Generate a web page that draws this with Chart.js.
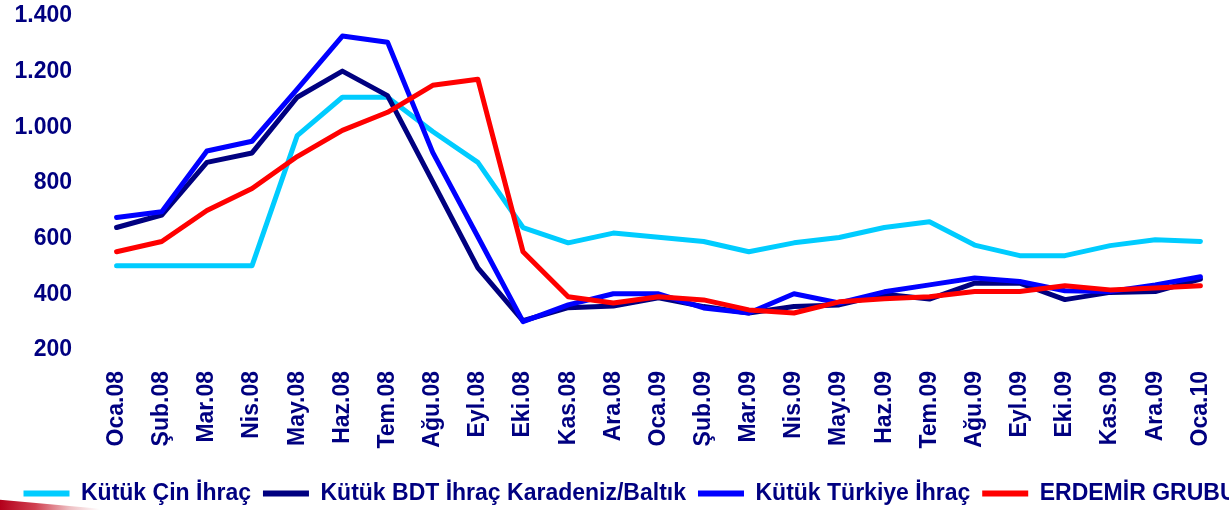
<!DOCTYPE html>
<html>
<head>
<meta charset="utf-8">
<script src="https://cdn.jsdelivr.net/npm/chart.js@4.4.1/dist/chart.umd.min.js"></script>
<style>
  html, body { margin: 0; padding: 0; background: #fff; overflow: hidden; width: 1229px; height: 510px; }
  #wrap { position: relative; width: 1260px; height: 510px; }
  #swoosh { position: absolute; left: 0; top: 498px; width: 100px; height: 12px;
    background: linear-gradient(to right, #b3001b 0%, #d04050 35%, #eec0c4 70%, rgba(255,255,255,0) 100%);
    clip-path: polygon(0 15%, 100% 90%, 100% 100%, 0 100%); z-index: 0; }
  canvas { position: relative; z-index: 1; }
</style>
</head>
<body>
<div id="wrap"><div id="swoosh"></div><canvas id="c"></canvas></div>
<script>
const categories = ["Oca.08","Şub.08","Mar.08","Nis.08","May.08","Haz.08","Tem.08","Ağu.08","Eyl.08","Eki.08","Kas.08","Ara.08",
  "Oca.09","Şub.09","Mar.09","Nis.09","May.09","Haz.09","Tem.09","Ağu.09","Eyl.09","Eki.09","Kas.09","Ara.09","Oca.10"];
const seriesNames = ["Kütük Çin İhraç", "Kütük BDT İhraç Karadeniz/Baltık", "Kütük Türkiye İhraç", "ERDEMİR GRUBU"];
const cinIhrac = [503,503,503,503,970,1108,1108,985,874,640,585,620,605,590,553,585,604,640,661,577,539,539,575,596,590];
const bdtIhrac = [640,685,874,908,1108,1202,1114,805,495,305,352,358,388,356,333,356,362,400,383,440,440,381,407,410,455];
const turkiyeIhrac = [676,697,915,950,1137,1328,1306,910,607,302,362,402,402,351,333,402,369,409,434,459,446,413,410,434,463];
const erdemirGrubu = [553,590,701,780,895,989,1054,1151,1173,553,391,369,391,380,344,333,373,384,391,410,410,431,416,423,431];
const yTickValues = [200, 400, 600, 800, 1000, 1200, 1400];

const colors = ["#00CCFF", "#000080", "#0000FF", "#FF0000"];
const navyText = "#000080";
const seriesData = [cinIhrac, bdtIhrac, turkiyeIhrac, erdemirGrubu];
const fontFamily = "'Liberation Sans', Arial, sans-serif";

function fmt(v) {
  return String(v).replace(/\B(?=(\d{3})+(?!\d))/g, ".");
}

const datasets = seriesData.map((d, i) => ({
  label: seriesNames[i],
  data: d,
  borderColor: colors[i],
  backgroundColor: colors[i],
  borderWidth: 5,
  pointRadius: 0,
  tension: 0,
  fill: false,
  borderJoinStyle: "round",
  borderCapStyle: "round",
  order: 4 - i
}));

const legendShift = {
  id: "legendShift",
  afterLayout(chart) {
    if (chart.legend) { chart.legend.top += 5; chart.legend.bottom += 5; }
  }
};

new Chart(document.getElementById("c"), {
  type: "line",
  data: { labels: categories, datasets },
  plugins: [legendShift],
  options: {
    responsive: true,
    maintainAspectRatio: false,
    animation: false,
    layout: { padding: { top: 16, left: 0, right: 0, bottom: 0 } },
    plugins: {
      tooltip: { enabled: false },
      legend: {
        position: "bottom",
        align: "center",
        labels: {
          boxWidth: 46,
          boxHeight: 6,
          padding: 12,
          color: navyText,
          font: { family: fontFamily, size: 23, weight: "bold" },
          sort: (a, b) => a.datasetIndex - b.datasetIndex,
          generateLabels: (chart) => {
            const items = Chart.defaults.plugins.legend.labels.generateLabels(chart);
            items.forEach(it => { it.fillStyle = it.strokeStyle; it.lineWidth = 0; });
            return items;
          }
        }
      }
    },
    scales: {
      x: {
        type: "category",
        offset: true,
        grid: { display: false, drawTicks: false },
        border: { display: false },
        ticks: {
          autoSkip: false,
          minRotation: 90,
          maxRotation: 90,
          padding: 21,
          color: navyText,
          font: { family: fontFamily, size: 23, weight: "bold" }
        },
        afterFit: (s) => { s.height = 115; }
      },
      y: {
        type: "linear",
        position: "left",
        min: 200,
        max: 1400,
        grid: { display: false, drawTicks: false },
        border: { display: false },
        afterBuildTicks: (s) => { s.ticks = yTickValues.map(v => ({ value: v })); },
        ticks: {
          padding: 22,
          color: navyText,
          font: { family: fontFamily, size: 23, weight: "bold" },
          callback: (v) => fmt(v)
        },
        afterFit: (s) => { s.width = 94; s.paddingTop = 0; s.paddingBottom = 0; }
      },
      yR: {
        type: "linear",
        position: "right",
        display: true,
        grid: { display: false, drawTicks: false },
        border: { display: false },
        ticks: { display: false },
        afterFit: (s) => { s.width = 37; s.paddingTop = 0; s.paddingBottom = 0; }
      }
    }
  }
});
</script>
</body>
</html>
